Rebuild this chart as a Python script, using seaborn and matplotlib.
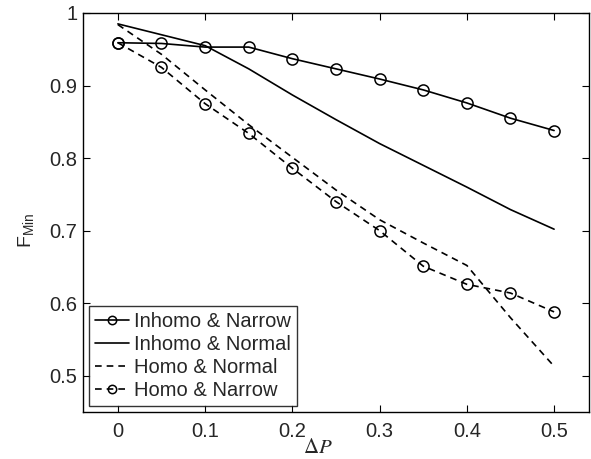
import matplotlib
matplotlib.use("Agg")
import matplotlib.pyplot as plt
import seaborn as sns
import pandas as pd

# data
delta_p = [0.0, 0.05, 0.1, 0.15, 0.2, 0.25, 0.3, 0.35, 0.4, 0.45, 0.5]
inhomo_narrow = [0.959, 0.958, 0.953, 0.953, 0.937, 0.923, 0.909, 0.894, 0.876, 0.855, 0.838]
inhomo_normal = [0.985, 0.970, 0.955, 0.923, 0.887, 0.853, 0.820, 0.790, 0.760, 0.729, 0.702]
homo_normal = [0.984, 0.943, 0.894, 0.846, 0.801, 0.756, 0.715, 0.683, 0.652, 0.580, 0.513]
homo_narrow = [0.959, 0.925, 0.875, 0.834, 0.786, 0.740, 0.700, 0.651, 0.626, 0.614, 0.588]

series = [
    ("Inhomo & Narrow", inhomo_narrow, "-", "o"),
    ("Inhomo & Normal", inhomo_normal, "-", None),
    ("Homo & Normal", homo_normal, "--", None),
    ("Homo & Narrow", homo_narrow, "--", "o"),
]

sns.set_style("ticks")
plt.rcParams['font.family'] = ['Liberation Sans', 'DejaVu Sans']
plt.rcParams['mathtext.fontset'] = 'stix'

fig = plt.figure(figsize=(5.91, 4.59), dpi=100)
ax = fig.add_axes([0.1404, 0.1024, 0.8562, 0.8693])

for name, vals, ls, mk in series:
    df = pd.DataFrame({"dp": delta_p, "f": vals})
    sns.lineplot(data=df, x="dp", y="f", ax=ax, color="black", linestyle=ls,
                 linewidth=1.2, marker=mk, markersize=8, markerfacecolor="none",
                 markeredgecolor="black", markeredgewidth=1.1, label=name)
    if ls == "--":
        ax.lines[-1].set_dashes((4, 3))

ax.set_xlim(-0.04, 0.54)
ax.set_ylim(0.45, 1.0)
ax.set_xticks([0, 0.1, 0.2, 0.3, 0.4, 0.5])
ax.set_xticklabels(["0", "0.1", "0.2", "0.3", "0.4", "0.5"])
ax.set_yticks([0.5, 0.6, 0.7, 0.8, 0.9, 1.0])
ax.set_yticklabels(["0.5", "0.6", "0.7", "0.8", "0.9", "1"])
ax.tick_params(direction="in", length=5, width=0.8, labelsize=14.5,
               top=True, right=True, color="black")
ax.tick_params(axis="x", pad=7)
ax.tick_params(axis="y", pad=4)
for sp in ax.spines.values():
    sp.set_visible(True)
    sp.set_color("black")
    sp.set_linewidth(1.0)

ax.set_xlabel(r"$\Delta P$", fontsize=15)
ax.xaxis.set_label_coords(0.464, -0.066)
ax.set_ylabel(r"$\mathregular{F_{Min}}$", fontsize=14)
ax.yaxis.set_label_coords(-0.092, 0.454)

leg = ax.legend(loc="lower left", bbox_to_anchor=(0.0, 0.0), fontsize=14.5,
                frameon=True, fancybox=False, borderpad=0.3, labelspacing=0.2,
                handlelength=1.7, handletextpad=0.25, borderaxespad=0.3,
                markerscale=0.75)
leg.get_frame().set_edgecolor("black")
leg.get_frame().set_linewidth(1.0)

fig.savefig("out.png", dpi=100)
